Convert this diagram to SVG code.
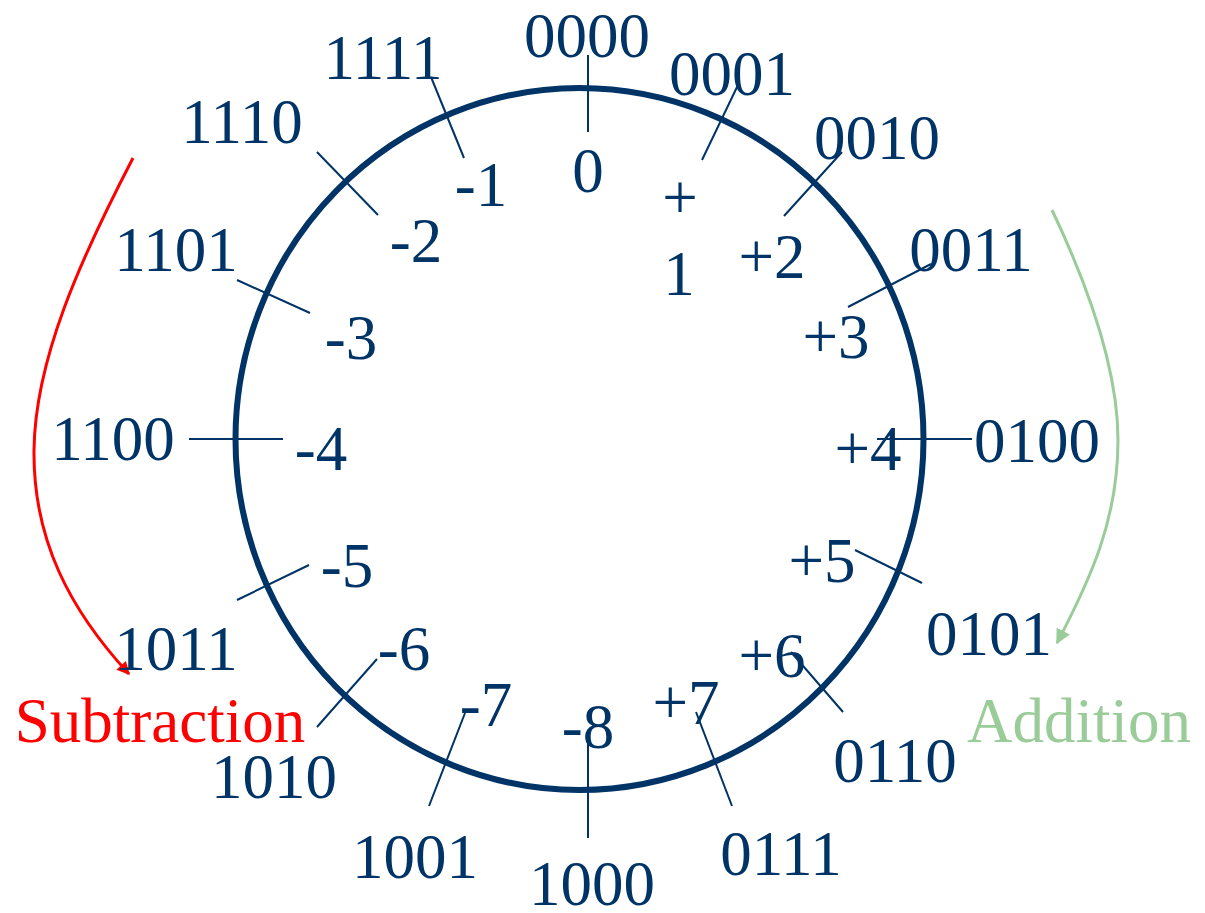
<svg xmlns="http://www.w3.org/2000/svg" width="1205" height="913" viewBox="0 0 1205 913">
<defs>
<style>
.t{font-family:"Liberation Serif","Times New Roman",serif;font-size:63px;fill:#003366;text-anchor:middle}
.tk{stroke:#003366;stroke-width:2;fill:none}
.sub{fill:#FF0000}
.add{fill:#99CC99}
</style>
<marker id="ar" viewBox="0 0 10 10" refX="9" refY="5" markerWidth="14" markerHeight="13" orient="auto" markerUnits="userSpaceOnUse"><path d="M0,0L10,5L0,10z" fill="#FF0000"/></marker>
<marker id="ag" viewBox="0 0 10 10" refX="9" refY="5" markerWidth="15" markerHeight="15" orient="auto" markerUnits="userSpaceOnUse"><path d="M0,0L10,5L0,10z" fill="#99CC99"/></marker>
</defs>
<rect width="1205" height="913" fill="#FFFFFF"/>
<g id="wheel">
<ellipse cx="579.5" cy="439" rx="344" ry="351" fill="none" stroke="#003366" stroke-width="6"/>
</g>
<g id="connectors">
<line class="tk" x1="588" y1="55" x2="588" y2="132"/>
<line class="tk" x1="738" y1="85" x2="702" y2="160"/>
<line class="tk" x1="842" y1="152" x2="784" y2="216"/>
<line class="tk" x1="931" y1="264" x2="848" y2="307"/>
<line class="tk" x1="877" y1="439" x2="972" y2="439"/>
<line class="tk" x1="855" y1="550" x2="922" y2="583"/>
<line class="tk" x1="791" y1="652" x2="843" y2="712"/>
<line class="tk" x1="696" y1="712" x2="732" y2="806"/>
<line class="tk" x1="588" y1="743" x2="588" y2="838"/>
<line class="tk" x1="465" y1="713" x2="429" y2="806"/>
<line class="tk" x1="377" y1="659" x2="317" y2="727"/>
<line class="tk" x1="309" y1="565" x2="237" y2="600"/>
<line class="tk" x1="189" y1="439" x2="283" y2="439"/>
<line class="tk" x1="237" y1="280" x2="310" y2="313"/>
<line class="tk" x1="317" y1="152" x2="378" y2="215"/>
<line class="tk" x1="431" y1="77" x2="464" y2="158"/>
<path id="sub-arrow" d="M133,158 C80,260 35,360 34,450 C33,540 70,610 129,674" fill="none" stroke="#FF0000" stroke-width="3" marker-end="url(#ar)"/>
<path id="add-arrow" d="M1052,210 C1090,290 1118,370 1118,440 C1118,520 1090,580 1057,643" fill="none" stroke="#99CC99" stroke-width="3" marker-end="url(#ag)"/>
</g>
<g id="binary">
<text class="t" x="587" y="57">0000</text>
<text class="t" x="732" y="95">0001</text>
<text class="t" x="877" y="159">0010</text>
<text class="t" x="971" y="271">0011</text>
<text class="t" x="1037" y="462">0100</text>
<text class="t" x="989" y="655">0101</text>
<text class="t" x="895" y="782">0110</text>
<text class="t" x="781" y="875">0111</text>
<text class="t" x="592" y="905">1000</text>
<text class="t" x="415" y="878">1001</text>
<text class="t" x="274" y="798">1010</text>
<text class="t" x="176" y="670">1011</text>
<text class="t" x="113" y="460">1100</text>
<text class="t" x="176" y="271">1101</text>
<text class="t" x="242" y="143">1110</text>
<text class="t" x="383" y="79">1111</text>
</g>
<g id="decimal">
<text class="t" x="588" y="192">0</text>
<text class="t" x="680" y="219">+</text>
<text class="t" x="679" y="295">1</text>
<text class="t" x="772" y="278">+2</text>
<text class="t" x="836" y="358">+3</text>
<text class="t" x="868" y="470">+4</text>
<text class="t" x="822" y="582">+5</text>
<text class="t" x="772" y="677">+6</text>
<text class="t" x="686" y="724">+7</text>
<text class="t" x="588" y="748">-8</text>
<text class="t" x="486" y="726">-7</text>
<text class="t" x="404" y="670">-6</text>
<text class="t" x="347" y="587">-5</text>
<text class="t" x="321" y="470">-4</text>
<text class="t" x="351" y="359">-3</text>
<text class="t" x="416" y="262">-2</text>
<text class="t" x="481" y="206">-1</text>
</g>
<g id="labels">
<text class="t sub" x="160" y="742">Subtraction</text>
<text class="t add" x="1079" y="742">Addition</text>
</g>
</svg>
